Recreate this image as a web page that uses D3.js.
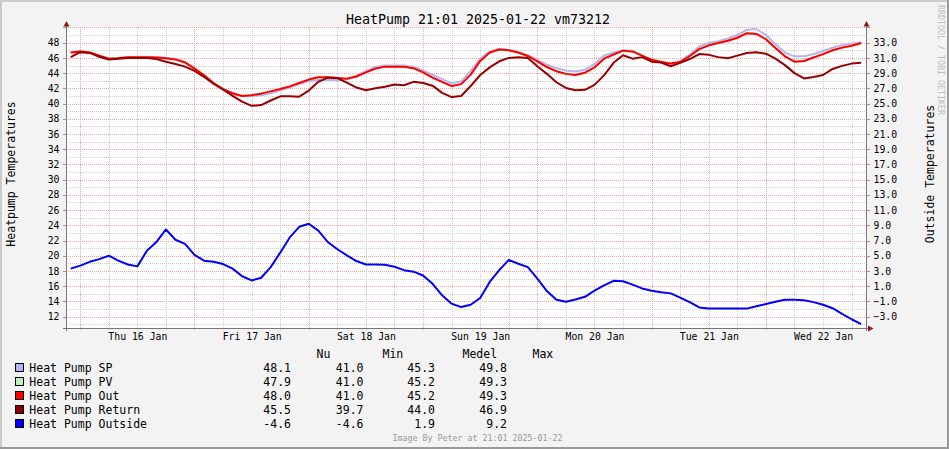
<!DOCTYPE html>
<html><head><meta charset="utf-8">
<script src="https://cdn.jsdelivr.net/npm/d3@7"></script>
<style>
html,body{margin:0;padding:0;background:#F3F3F3;}
svg{display:block;}
text{font-family:"DejaVu Sans Mono",monospace;}
</style></head><body>
<svg id="chart" width="949" height="449"></svg>
<script>
// ---------- data ----------
const title = "HeatPump 21:01 2025-01-22 vm73212";
const leftAxisTitle = "Heatpump Temperatures";
const rightAxisTitle = "Outside Temperatures";
const footerText = "Image By Peter at 21:01 2025-01-22";
const watermarkText = "RRDTOOL / TOBI OETIKER";
const sampleStart = "2025-01-15T21:01:00Z";
const sampleEnd = "2025-01-22T21:01:00Z";
const sampleStepHours = 2;
const leftTicks = [12,14,16,18,20,22,24,26,28,30,32,34,36,38,40,42,44,46,48];
const rightTicks = [-3,-1,1,3,5,7,9,11,13,15,17,19,21,23,25,27,29,31,33];
const seriesNames = ["Heat Pump SP","Heat Pump PV","Heat Pump Out","Heat Pump Return","Heat Pump Outside"];
const statHeaders = ["Nu","Min","Medel","Max"];
const statsSP = ["48.1","41.0","45.3","49.8"];
const statsPV = ["47.9","41.0","45.2","49.3"];
const statsOut = ["48.0","41.0","45.2","49.3"];
const statsReturn = ["45.5","39.7","44.0","46.9"];
const statsOutside = ["-4.6","-4.6","1.9","9.2"];

const sp = [46.7,46.85,46.7,46.3,45.95,46.0,46.1,46.15,46.15,46.1,46.0,45.85,45.45,44.65,43.75,42.6,41.75,41.2,41.0,41.0,41.1,41.35,41.7,42.1,42.55,42.95,43.1,43.1,43.1,43.2,43.65,44.3,44.8,45.0,45.0,45.0,44.8,44.35,43.75,43.2,42.65,42.9,44.3,45.9,46.85,47.2,47.05,46.75,46.35,45.75,45.1,44.65,44.35,44.2,44.45,45.2,46.3,46.7,47.0,46.85,46.3,45.75,45.4,45.2,45.55,46.45,47.5,47.95,48.2,48.55,49.0,49.7,49.8,49.0,47.8,46.7,46.2,46.2,46.5,46.9,47.35,47.65,47.85,48.05,48.1];
const pv = [46.7,46.85,46.7,46.3,45.9,45.95,46.1,46.1,46.1,46.05,45.95,45.8,45.4,44.6,43.7,42.7,41.9,41.35,41.0,41.1,41.3,41.6,41.9,42.25,42.7,43.15,43.45,43.45,43.35,43.25,43.55,44.1,44.6,44.85,44.85,44.85,44.65,44.1,43.4,42.85,42.3,42.55,43.8,45.6,46.7,47.1,47.0,46.7,46.25,45.55,44.8,44.25,43.9,43.75,44.05,44.75,45.9,46.45,46.95,46.85,46.3,45.75,45.45,45.25,45.45,46.25,47.15,47.65,47.95,48.25,48.65,49.25,49.15,48.45,47.3,46.2,45.5,45.6,46.05,46.5,47.0,47.35,47.6,47.9,47.9];
const out = [46.7,46.85,46.7,46.3,45.9,45.95,46.1,46.1,46.1,46.05,45.95,45.8,45.4,44.6,43.7,42.7,41.9,41.35,41.0,41.1,41.3,41.6,41.9,42.25,42.7,43.15,43.45,43.45,43.35,43.25,43.55,44.1,44.6,44.85,44.85,44.85,44.65,44.1,43.4,42.85,42.3,42.55,43.8,45.6,46.7,47.1,47.0,46.7,46.25,45.55,44.8,44.25,43.9,43.75,44.05,44.75,45.9,46.45,46.95,46.85,46.3,45.75,45.45,45.25,45.45,46.25,47.15,47.65,47.95,48.25,48.65,49.25,49.15,48.45,47.3,46.2,45.5,45.6,46.05,46.5,47.0,47.35,47.6,47.95,48.0];
const ret = [46.1,46.75,46.65,46.15,45.8,45.9,46.0,46.0,46.0,45.85,45.5,45.2,44.85,44.3,43.5,42.6,41.85,41.0,40.25,39.7,39.8,40.4,40.95,40.95,40.9,41.7,42.85,43.4,43.35,42.75,42.1,41.75,42.0,42.2,42.5,42.4,42.85,42.7,42.35,41.4,40.85,41.0,42.3,43.75,44.75,45.55,46.0,46.1,46.0,44.9,43.9,42.8,42.05,41.75,41.8,42.45,43.7,45.35,46.35,45.9,46.1,45.5,45.4,44.9,45.35,45.85,46.5,46.4,46.1,45.95,46.3,46.65,46.75,46.55,45.9,45.05,44.0,43.3,43.5,43.75,44.55,44.95,45.25,45.35,45.45];
const outside = [3.3,3.7,4.2,4.55,5.0,4.35,3.85,3.6,5.65,6.8,8.45,7.1,6.55,5.1,4.35,4.2,3.9,3.3,2.3,1.75,2.1,3.5,5.4,7.4,8.8,9.2,8.3,6.8,5.85,5.05,4.3,3.85,3.85,3.8,3.55,3.1,2.9,2.4,1.3,-0.2,-1.3,-1.75,-1.45,-0.55,1.55,3.1,4.45,3.95,3.5,2.0,0.35,-0.8,-1.05,-0.75,-0.4,0.4,1.1,1.7,1.65,1.2,0.7,0.4,0.2,0.05,-0.5,-1.1,-1.8,-1.95,-1.95,-1.95,-1.95,-1.95,-1.65,-1.35,-1.05,-0.8,-0.8,-0.85,-1.1,-1.45,-1.9,-2.65,-3.35,-4.0,-4.6];

// ---------- styles ----------
const colors = {sp:"#B4B4F2", pv:"#BFF0BF", out:"#FF0000", ret:"#990000", outside:"#0000FF"};
const legendColors = ["#B4B4F2","#C0F2C0","#FF0000","#8B0000","#0000FF"];

// ---------- chart ----------
const svg = d3.select("#chart");
const W = 949, H = 449;
const t0 = new Date(sampleStart), t1 = new Date(sampleEnd);
const times = d3.utcHour.every(sampleStepHours).range(t0, new Date(+t1 + 1000));

const x = d3.scaleUtc().domain([t0, t1]).range([66, 866]);
const y = d3.scaleLinear().domain([10.5, 50.06]).range([328, 27]);
const yR = d3.scaleLinear().domain([-4.5, 35.06]).range([328, 27]);

// background + frame
svg.append("rect").attr("width", W).attr("height", H).attr("fill", "#F3F3F3");
svg.append("rect").attr("x",0).attr("y",0).attr("width",W).attr("height",2).attr("fill","#CBCBCB");
svg.append("rect").attr("x",0).attr("y",0).attr("width",2).attr("height",H).attr("fill","#CBCBCB");
svg.append("rect").attr("x",0).attr("y",H-2).attr("width",W).attr("height",2).attr("fill","#999999");
svg.append("rect").attr("x",W-2).attr("y",0).attr("width",2).attr("height",H).attr("fill","#999999");

// canvas
svg.append("rect").attr("x", 66).attr("y", 27).attr("width", 801).attr("height", 302).attr("fill", "#FFFFFF");

const grid = svg.append("g").attr("shape-rendering", "crispEdges");
// horizontal grid
d3.range(11, 51).forEach(v => {
  const py = Math.round(y(v)) + 0.5;
  const major = v % 2 === 0;
  grid.append("line").attr("x1", 66).attr("x2", 866).attr("y1", py).attr("y2", py)
    .attr("stroke", major ? "#F2A3A3" : "#CFCFCF").attr("stroke-dasharray", "1,1");
  if (major) {
    grid.append("line").attr("x1", 63).attr("x2", 66).attr("y1", py).attr("y2", py).attr("stroke", "#D08080");
    grid.append("line").attr("x1", 867).attr("x2", 870).attr("y1", py).attr("y2", py).attr("stroke", "#D08080");
  }
});
// vertical grid
const minorT = d3.utcHour.every(6).range(t0, t1).filter(d => d.getUTCHours() !== 0);
const majorT = d3.utcDay.range(t0, t1);
minorT.forEach(d => {
  const px = Math.round(x(d)) + 0.5;
  grid.append("line").attr("x1", px).attr("x2", px).attr("y1", 27).attr("y2", 330)
    .attr("stroke", "#CFCFCF").attr("stroke-dasharray", "1,1");
});
majorT.forEach(d => {
  const px = Math.round(x(d)) + 0.5;
  grid.append("line").attr("x1", px).attr("x2", px).attr("y1", 27).attr("y2", 331)
    .attr("stroke", "#F2A3A3").attr("stroke-dasharray", "1,1");
});

// clip
svg.append("defs").append("clipPath").attr("id", "plotclip")
  .append("rect").attr("x", 66).attr("y", 26).attr("width", 801).attr("height", 303);

const plot = svg.append("g").attr("clip-path", "url(#plotclip)");
const lineL = d3.line().x((d, i) => x(times[i])).y(d => y(d));
const lineR = d3.line().x((d, i) => x(times[i])).y(d => yR(d));
[[sp, colors.sp], [pv, colors.pv], [out, colors.out], [ret, colors.ret]].forEach(([s, c]) => {
  plot.append("path").datum(s).attr("d", lineL).attr("fill", "none").attr("stroke", c)
    .attr("stroke-width", 2).attr("stroke-linejoin", "round");
});
plot.append("path").datum(outside).attr("d", lineR).attr("fill", "none").attr("stroke", colors.outside)
  .attr("stroke-width", 2).attr("stroke-linejoin", "round");

// axes lines + arrows
const axisColor = "#777777", arrowColor = "#8B1A1A";
const ax = svg.append("g").attr("shape-rendering", "crispEdges");
ax.append("line").attr("x1", 66.5).attr("x2", 66.5).attr("y1", 331).attr("y2", 23).attr("stroke", axisColor);
ax.append("line").attr("x1", 866.5).attr("x2", 866.5).attr("y1", 331).attr("y2", 23).attr("stroke", axisColor);
ax.append("line").attr("x1", 63).attr("x2", 870).attr("y1", 328.5).attr("y2", 328.5).attr("stroke", axisColor);
svg.append("path").attr("d", "M63.5,26.5L69.5,26.5L66.5,21Z").attr("fill", arrowColor);
svg.append("path").attr("d", "M863.5,26.5L869.5,26.5L866.5,21Z").attr("fill", arrowColor);
svg.append("path").attr("d", "M868,325.5L868,331.5L873.5,328.5Z").attr("fill", arrowColor);

// tick labels
const lab = d3.axisLeft(y).tickValues(leftTicks).tickFormat(d3.format("d")).tickSize(0).tickPadding(7);
const gl = svg.append("g").attr("transform", "translate(66.5,0)").call(lab);
const rab = d3.axisRight(yR).tickValues(rightTicks).tickFormat(d3.format(".1f")).tickSize(0).tickPadding(7);
const gr = svg.append("g").attr("transform", "translate(866.5,0)").call(rab);
const noonT = majorT.map(d => d3.utcHour.offset(d, 12)).filter(d => d < t1);
const bab = d3.axisBottom(x).tickValues(noonT).tickFormat(d3.utcFormat("%a %d %b")).tickSize(0).tickPadding(5);
const gb = svg.append("g").attr("transform", "translate(0,328)").call(bab);
[gl, gr, gb].forEach(g => {
  g.select(".domain").remove();
  g.selectAll("text").attr("font-family", "DejaVu Sans Mono").attr("font-size", "9.8px").attr("fill", "#000");
});

// title
svg.append("text").attr("x", 478).attr("y", 24).attr("text-anchor", "middle")
  .attr("font-size", "13.3px").attr("fill", "#000").text(title);

// axis titles
svg.append("text").attr("transform", "translate(11,174) rotate(-90)").attr("text-anchor", "middle")
  .attr("dominant-baseline", "central").attr("font-size", "11.5px").attr("fill", "#000").text(leftAxisTitle);
svg.append("text").attr("transform", "translate(930,174) rotate(-90)").attr("text-anchor", "middle")
  .attr("dominant-baseline", "central").attr("font-size", "11.5px").attr("fill", "#000").text(rightAxisTitle);

// watermark
svg.append("text").attr("transform", "translate(941,5) rotate(90)").attr("text-anchor", "start")
  .attr("dominant-baseline", "central").attr("font-size", "8.3px").attr("fill", "#BDBDBD").text(watermarkText);

// legend
const headerX = [316.5, 382.5, 462.5, 532.5];
statHeaders.forEach((h, i) => {
  svg.append("text").attr("x", headerX[i]).attr("y", 358.3).attr("font-size", "11.5px").attr("fill", "#000").text(h);
});
const allStats = [statsSP, statsPV, statsOut, statsReturn, statsOutside];
const valX = [291, 363.5, 435, 507];
seriesNames.forEach((name, r) => {
  const base = 372.3 + r * 14;
  svg.append("rect").attr("x", 15.5).attr("y", base - 8.5).attr("width", 8).attr("height", 8)
    .attr("fill", legendColors[r]).attr("stroke", "#000").attr("stroke-width", 1).attr("shape-rendering", "crispEdges");
  svg.append("text").attr("x", 29.3).attr("y", base).attr("font-size", "11.5px").attr("fill", "#000").text(name);
  allStats[r].forEach((v, i) => {
    svg.append("text").attr("x", valX[i]).attr("y", base).attr("text-anchor", "end")
      .attr("font-size", "11.5px").attr("fill", "#000").text(v);
  });
});

// footer
svg.append("text").attr("x", 477.5).attr("y", 441.3).attr("text-anchor", "middle")
  .attr("font-size", "8.3px").attr("fill", "#999999").text(footerText);
</script>
</body></html>
